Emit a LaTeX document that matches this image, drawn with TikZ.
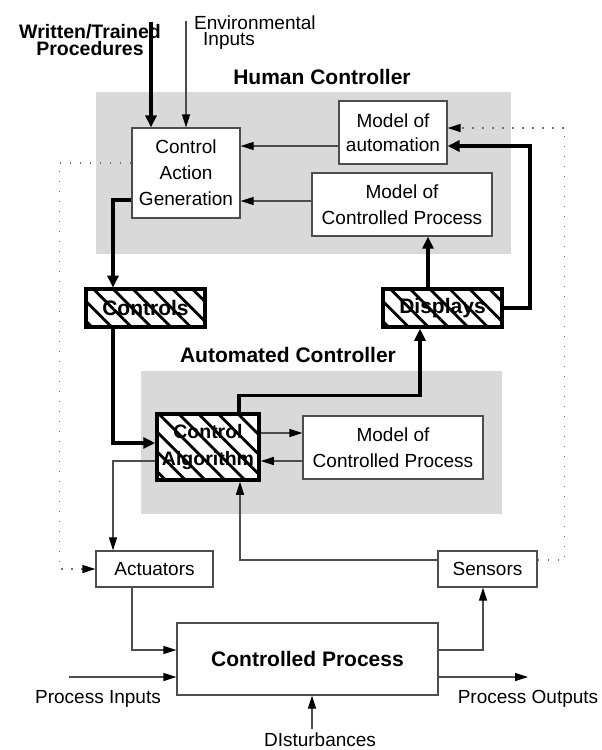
\documentclass[tikz,border=0pt]{standalone}
\usepackage{fontspec}
\setmainfont{Liberation Sans}
\usetikzlibrary{arrows.meta,patterns.meta}
\definecolor{cshade}{HTML}{D9D9D9}
\definecolor{cline}{HTML}{4D4D4D}
\definecolor{cdot}{HTML}{707070}
\newcommand{\txtfont}{\fontsize{19}{26}\selectfont}
\newcommand{\boldfont}{\fontsize{21}{26}\selectfont\bfseries}
\tikzset{
  box/.style={draw=cline, line width=1.2pt, fill=white, inner sep=0pt, align=center, font=\txtfont},
  hatchbox/.style={draw=black, line width=3.5pt, preaction={fill=white},
    pattern={Lines[angle=-45,distance=14pt,line width=2.8pt]}, inner sep=0pt, align=center, font=\boldfont},
  lbl/.style={font=\txtfont, inner sep=0pt, align=center},
  blbl/.style={font=\boldfont, inner sep=0pt, align=center},
  pre/.style={-{Triangle[length=13pt,width=8pt,color=black]}, draw=cline, line width=1.2pt},
  thk/.style={-{Triangle[length=12pt,width=11pt]}, line width=3.5pt},
  dots/.style={-{Triangle[length=13pt,width=8pt,color=black]}, draw=cdot, line width=1.3pt, dash pattern=on 1.3pt off 8.7pt},
}

\begin{document}
\begin{tikzpicture}[x=1pt,y=-1pt]
\useasboundingbox (0,0) rectangle (602,750);
\fill[cshade] (96,92) rectangle (511,254);
\fill[cshade] (141,371) rectangle (502,514);

\node[blbl] (hlbl) at (322,77) {Human Controller};
\node[blbl] (albl) at (288,355) {Automated Controller};
\node[box, minimum width=108, minimum height=90] (cag) at (186,173) {Control\\Action\\Generation};
\node[box, minimum width=108, minimum height=63, font=\fontsize{19}{24}\selectfont] (auto) at (393,132.5) {Model of\\automation};
\node[box, minimum width=180, minimum height=63] (mcph) at (402,204.5) {Model of\\Controlled Process};
\node[hatchbox, minimum width=119, minimum height=38] (controls) at (145.5,308) {Controls};
\node[hatchbox, minimum width=119, minimum height=38] (displays) at (442.5,308) {Displays};
\node[hatchbox, minimum width=102, minimum height=66, font=\fontsize{19.5}{27}\selectfont\bfseries] (algo) at (208,447) {Control\\Algorithm};
\node[box, minimum width=180, minimum height=63] (mcpa) at (393,447.5) {Model of\\Controlled Process};
\node[box, minimum width=117, minimum height=36] (act) at (154.5,569) {Actuators};
\node[box, minimum width=99, minimum height=36] (sens) at (487.5,569) {Sensors};
\node[box, minimum width=261, minimum height=72, font=\boldfont] (proc) at (307.5,659) {Controlled Process};

\node[blbl, font=\fontsize{19.5}{17}\selectfont\bfseries] (wlbl) at (90,40) {Written/Trained\\Procedures};
\node[lbl, font=\fontsize{19}{16}\selectfont, anchor=west, align=left] (elbl) at (194,33) {Environmental\\\hspace*{9pt}Inputs};
\node[lbl] (inlbl) at (98,699) {Process Inputs};
\node[lbl] (outlbl) at (528,699) {Process Outputs};
\node[lbl] (dlbl) at (320,740) {DIsturbances};
\coordinate (wt) at (151,22);
\coordinate (env) at (186,21);
\coordinate (pin) at (69,677);
\coordinate (pout) at (528,677);

\draw[thk] (wt) -- ([xshift=-35pt]cag.north);
\draw[pre] (env) -- (cag.north);
\draw[pre] ([yshift=-13.5pt]auto.west) -- ([yshift=27pt]cag.east);
\draw[pre] ([yshift=3.5pt]mcph.west) -- ([yshift=-28pt]cag.east);
\draw[dots] ([yshift=10pt]cag.west) -- ++(-72,0) |- (act.west);
\draw[thk] ([yshift=-27pt]cag.west) -| ([xshift=-32.5pt]controls.north);
\draw[thk] ([xshift=-32.5pt]controls.south) |- ([yshift=4pt]algo.west);
\draw[pre] ([yshift=14pt]algo.east) -- ([yshift=14.5pt]mcpa.west);
\draw[pre] ([yshift=-13.5pt]mcpa.west) -- ([yshift=-14pt]algo.east);
\draw[thk] ([xshift=31pt]algo.north) -- ++(0,-17) -| ([xshift=-22.5pt]displays.south);
\draw[thk] ([xshift=-14.5pt]displays.north) -- ([xshift=26pt]mcph.south);
\draw[thk] (displays.east) -- ++(26,0) |- ([yshift=-13.5pt]auto.east);
\draw[dots] ([yshift=9pt]sens.east) -- ++(27,0) |- ([yshift=4.5pt]auto.east);
\draw[pre] ([yshift=9pt]sens.west) -| ([xshift=32pt]algo.south);
\draw[pre] ([yshift=-14pt]algo.west) -| ([xshift=-41.5pt]act.north);
\draw[pre] ([xshift=-22.5pt]act.south) |- ([yshift=9pt]proc.west);
\draw[pre] (pin) -- ([yshift=-18pt]proc.west);
\draw[pre] ([yshift=-18pt]proc.east) -- (pout);
\draw[pre] ([yshift=9pt]proc.east) -| ([xshift=-4.5pt]sens.south);
\draw[pre] ([xshift=-8pt,yshift=4pt]dlbl.north) -- ([xshift=4.5pt]proc.south);
\end{tikzpicture}
\end{document}
